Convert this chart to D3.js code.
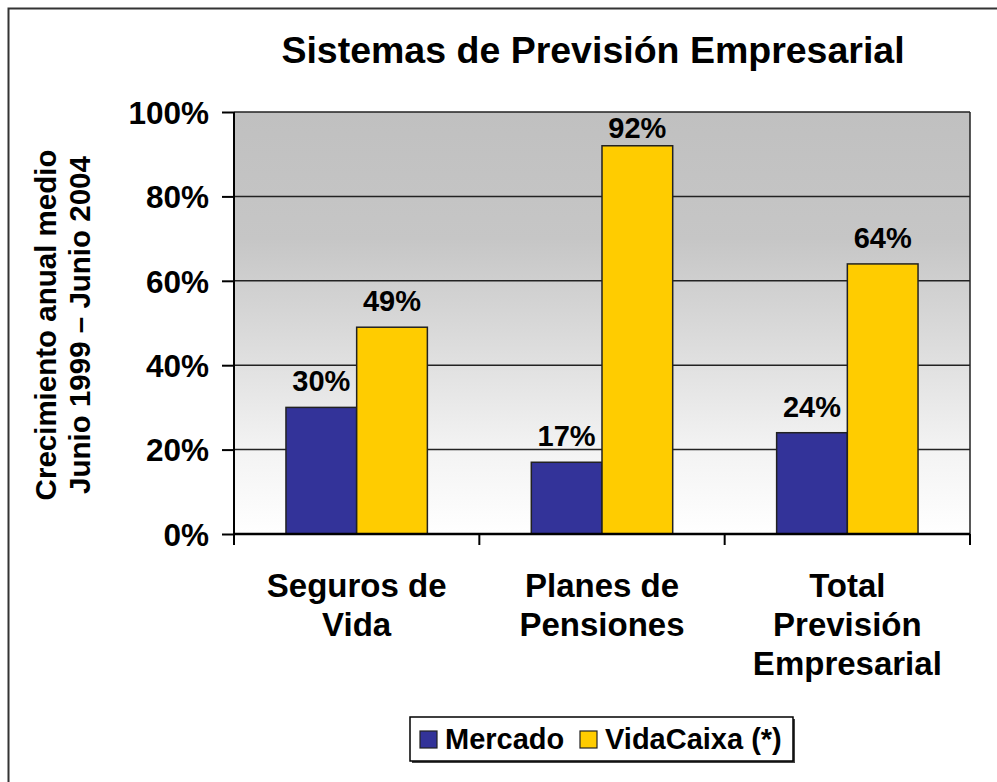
<!DOCTYPE html>
<html>
<head>
<meta charset="utf-8">
<script src="https://cdn.jsdelivr.net/npm/d3@7"></script>
<style>
  body { margin: 0; background: #fff; }
  text { font-family: Arial, "Liberation Sans", sans-serif; font-weight: bold; fill: #000; }
</style>
</head>
<body>
<div id="chart"></div>
<script>
// chart data
const categories = [["Seguros de", "Vida"], ["Planes de", "Pensiones"], ["Total", "Previsión", "Empresarial"]];
const seriesNames = ["Mercado", "VidaCaixa (*)"];
const mercado = [30, 17, 24];
const vidacaixa = [49, 92, 64];
const yTicks = [0, 20, 40, 60, 80, 100];
const colors = ["#333399", "#FFCC00"];

const W = 997, H = 782;
const plot = {left: 234, right: 970, top: 112, bottom: 534};

const svg = d3.select("#chart").append("svg")
    .attr("width", W).attr("height", H);

// outer frame (cropped at right and bottom)
svg.append("rect")
    .attr("x", 8.5).attr("y", 8.5)
    .attr("width", W + 20).attr("height", H + 20)
    .attr("fill", "none").attr("stroke", "#333").attr("stroke-width", 2);

// gradient background for plot area
const defs = svg.append("defs");
const grad = defs.append("linearGradient").attr("id", "bg")
    .attr("x1", 0).attr("y1", 0).attr("x2", 0).attr("y2", 1);
grad.append("stop").attr("offset", "0%").attr("stop-color", "#c0c0c0");
grad.append("stop").attr("offset", "30%").attr("stop-color", "#c6c6c6");
grad.append("stop").attr("offset", "55%").attr("stop-color", "#dcdcdc");
grad.append("stop").attr("offset", "80%").attr("stop-color", "#f3f3f3");
grad.append("stop").attr("offset", "100%").attr("stop-color", "#ffffff");

// scales
const x0 = d3.scaleBand().domain(d3.range(categories.length))
    .range([plot.left, plot.right]).paddingInner(0).paddingOuter(0);
const y = d3.scaleLinear().domain([0, 100]).range([plot.bottom, plot.top]);
const barW = 70.7;
const x1 = d3.scaleBand().domain(seriesNames).range([0, barW * 2]);

svg.append("rect")
    .attr("x", plot.left).attr("y", plot.top)
    .attr("width", plot.right - plot.left).attr("height", plot.bottom - plot.top)
    .attr("fill", "url(#bg)");

// gridlines
svg.append("g").selectAll("line")
    .data(yTicks.filter(d => d > 0))
    .enter().append("line")
    .attr("x1", plot.left).attr("x2", plot.right)
    .attr("y1", d => y(d)).attr("y2", d => y(d))
    .attr("stroke", "#222").attr("stroke-width", 1.5);

// right border of plot area
svg.append("line")
    .attr("x1", plot.right).attr("x2", plot.right)
    .attr("y1", plot.top).attr("y2", plot.bottom)
    .attr("stroke", "#222").attr("stroke-width", 1.5);

// bars
const data = categories.map((c, i) => ({i: i, values: [mercado[i], vidacaixa[i]]}));
const groups = svg.append("g").selectAll("g")
    .data(data).enter().append("g")
    .attr("transform", d => "translate(" + (x0(d.i) + x0.bandwidth() / 2 - barW) + ",0)");

groups.selectAll("rect")
    .data(d => d.values.map((v, k) => ({v: v, k: k})))
    .enter().append("rect")
    .attr("x", d => x1(seriesNames[d.k]))
    .attr("y", d => y(d.v))
    .attr("width", x1.bandwidth())
    .attr("height", d => y(0) - y(d.v))
    .attr("fill", d => colors[d.k])
    .attr("stroke", "#222").attr("stroke-width", 1.5);

// value labels
groups.selectAll("text.val")
    .data(d => d.values.map((v, k) => ({v: v, k: k})))
    .enter().append("text").attr("class", "val")
    .attr("x", d => x1(seriesNames[d.k]) + x1.bandwidth() / 2)
    .attr("y", d => Math.max(y(d.v) - 16, plot.top + 26))
    .attr("text-anchor", "middle")
    .style("font-size", "29px")
    .text(d => d.v + "%");

// y axis
const yAxis = d3.axisLeft(y).tickValues(yTicks).tickSize(12).tickPadding(13)
    .tickFormat(d => d + "%");
const gy = svg.append("g").attr("transform", "translate(" + plot.left + ",0)").call(yAxis);
gy.select(".domain").remove();
gy.selectAll(".tick line").attr("stroke", "#000").attr("stroke-width", 2);
gy.selectAll(".tick text").style("font-size", "31.5px").attr("dy", "0.36em");
svg.append("line")
    .attr("x1", plot.left).attr("x2", plot.left)
    .attr("y1", plot.top).attr("y2", plot.bottom + 11)
    .attr("stroke", "#000").attr("stroke-width", 2);

// x axis
svg.append("line")
    .attr("x1", plot.left).attr("x2", plot.right)
    .attr("y1", plot.bottom).attr("y2", plot.bottom)
    .attr("stroke", "#000").attr("stroke-width", 2.5);
svg.append("g").selectAll("line")
    .data(d3.range(categories.length + 1))
    .enter().append("line")
    .attr("x1", d => plot.left + d * x0.bandwidth())
    .attr("x2", d => plot.left + d * x0.bandwidth())
    .attr("y1", plot.bottom).attr("y2", plot.bottom + 11)
    .attr("stroke", "#000").attr("stroke-width", 2);

// category labels
const catLabels = svg.append("g").selectAll("text")
    .data(categories).enter().append("text")
    .attr("text-anchor", "middle")
    .style("font-size", "33px")
    .attr("transform", (d, i) => "translate(" + (x0(i) + x0.bandwidth() / 2) + ",597)");
catLabels.selectAll("tspan")
    .data(d => d).enter().append("tspan")
    .attr("x", 0).attr("dy", (d, j) => j === 0 ? 0 : 39)
    .text(d => d);

// y axis title
const yTitle = svg.append("text")
    .attr("text-anchor", "middle")
    .style("font-size", "29.5px")
    .attr("transform", "translate(56,325) rotate(-90)");
yTitle.append("tspan").attr("x", 0).attr("dy", 0).text("Crecimiento anual medio");
yTitle.append("tspan").attr("x", 0).attr("dy", 34).text("Junio 1999 – Junio 2004");

// chart title
svg.append("text")
    .attr("x", 593).attr("y", 63)
    .attr("text-anchor", "middle")
    .style("font-size", "37.5px")
    .text("Sistemas de Previsión Empresarial");

// legend
const leg = {x: 410, y: 717, w: 383, h: 44};
svg.append("rect")
    .attr("x", leg.x + 2).attr("y", leg.y + 2).attr("width", leg.w).attr("height", leg.h)
    .attr("fill", "#444");
svg.append("rect")
    .attr("x", leg.x).attr("y", leg.y).attr("width", leg.w).attr("height", leg.h)
    .attr("fill", "#fff").attr("stroke", "#000").attr("stroke-width", 1.5);
const legX = [420, 580];
const items = svg.append("g").selectAll("g")
    .data(seriesNames).enter().append("g")
    .attr("transform", (d, i) => "translate(" + legX[i] + ",731)");
items.append("rect")
    .attr("width", 17).attr("height", 17)
    .attr("fill", (d, i) => colors[i])
    .attr("stroke", "#222").attr("stroke-width", 1.2);
items.append("text")
    .attr("x", 25).attr("y", 18)
    .style("font-size", "29px")
    .text(d => d);
</script>
</body>
</html>
